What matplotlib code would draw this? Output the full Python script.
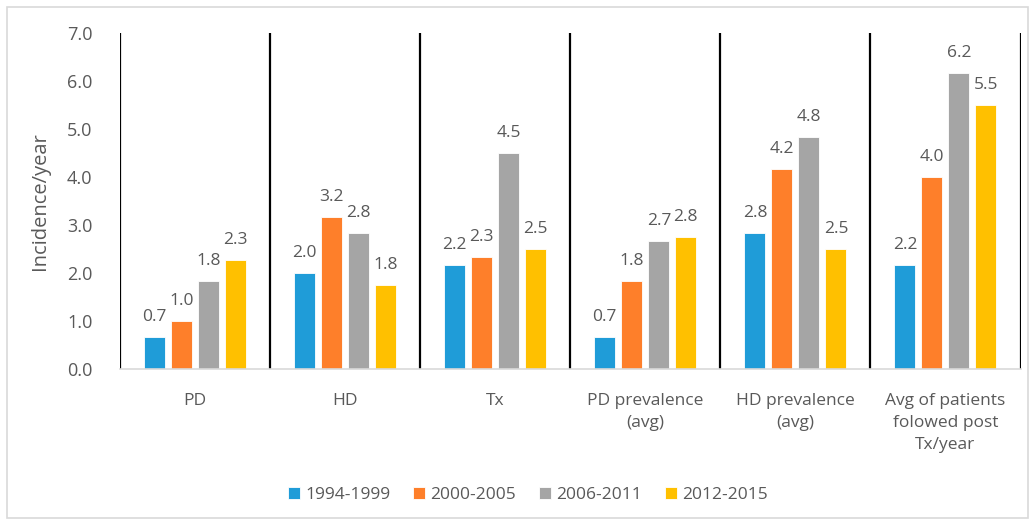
import numpy as np
import matplotlib.pyplot as plt
from matplotlib.patches import Rectangle

plt.rcParams['font.family'] = ['Open Sans', 'DejaVu Sans']

categories = ['PD', 'HD', 'Tx', 'PD prevalence\n(avg)', 'HD prevalence\n(avg)',
              'Avg of patients\nfolowed post\nTx/year']
periods = ['1994-1999', '2000-2005', '2006-2011', '2012-2015']
v_1994 = [0.67, 2.0, 2.17, 0.67, 2.83, 2.17]
v_2000 = [1.0, 3.17, 2.33, 1.83, 4.17, 4.0]
v_2006 = [1.83, 2.83, 4.5, 2.67, 4.83, 6.17]
v_2012 = [2.26, 1.75, 2.5, 2.75, 2.5, 5.5]
series = [v_1994, v_2000, v_2006, v_2012]
colors = ['#1F9CD8', '#FE7F2A', '#A5A5A5', '#FFC000']
text_c = '#595959'

fig = plt.figure(figsize=(10.35, 5.24), dpi=100)
fig.patches.append(Rectangle((0.007, 0.012), 0.986, 0.975, transform=fig.transFigure,
                             fill=False, edgecolor='#D9D9D9', linewidth=1.2))
ax = fig.add_axes([0.116, 0.296, 0.870, 0.641])

x = np.arange(len(categories))
w = 0.14
step = 0.18
for i, (vals, lab, c) in enumerate(zip(series, periods, colors)):
    pos = x + (i - 1.5) * step
    ax.bar(pos, vals, w, color=c, label=lab, edgecolor='white', linewidth=0.6)
    for p, v in zip(pos, vals):
        ax.text(p, v + 0.25, f'{v:.1f}', ha='center', va='bottom', fontsize=12.5, color=text_c)

# separators between groups
for b in np.arange(len(categories) + 1) - 0.5:
    ax.axvline(b, color='black', linewidth=1.6, ymin=0, ymax=1)

ax.set_xlim(-0.5, len(categories) - 0.5)
ax.set_ylim(0, 7)
ax.set_yticks(np.arange(0, 7.1, 1.0))
ax.set_yticklabels([f'{t:.1f}' for t in np.arange(0, 7.1, 1.0)], fontsize=13, color=text_c)
ax.set_xticks(x)
ax.set_xticklabels(categories, fontsize=12.5, color=text_c, linespacing=1.5, va='top')
ax.tick_params(axis='both', length=0)
ax.tick_params(axis='x', pad=17)
ax.tick_params(axis='y', pad=20)
ax.set_ylabel('Incidence/year', fontsize=14.5, color=text_c, labelpad=12)

for s in ['top', 'right', 'left']:
    ax.spines[s].set_visible(False)
ax.spines['bottom'].set_color('#D9D9D9')
ax.spines['bottom'].set_linewidth(1.2)

fig.legend(loc='center', bbox_to_anchor=(0.51, 0.056), ncol=4, frameon=False,
           fontsize=12.5, labelcolor=text_c, handlelength=0.7, handleheight=0.7,
           handletextpad=0.3, columnspacing=1.3)

fig.savefig('out.png', dpi=100)
